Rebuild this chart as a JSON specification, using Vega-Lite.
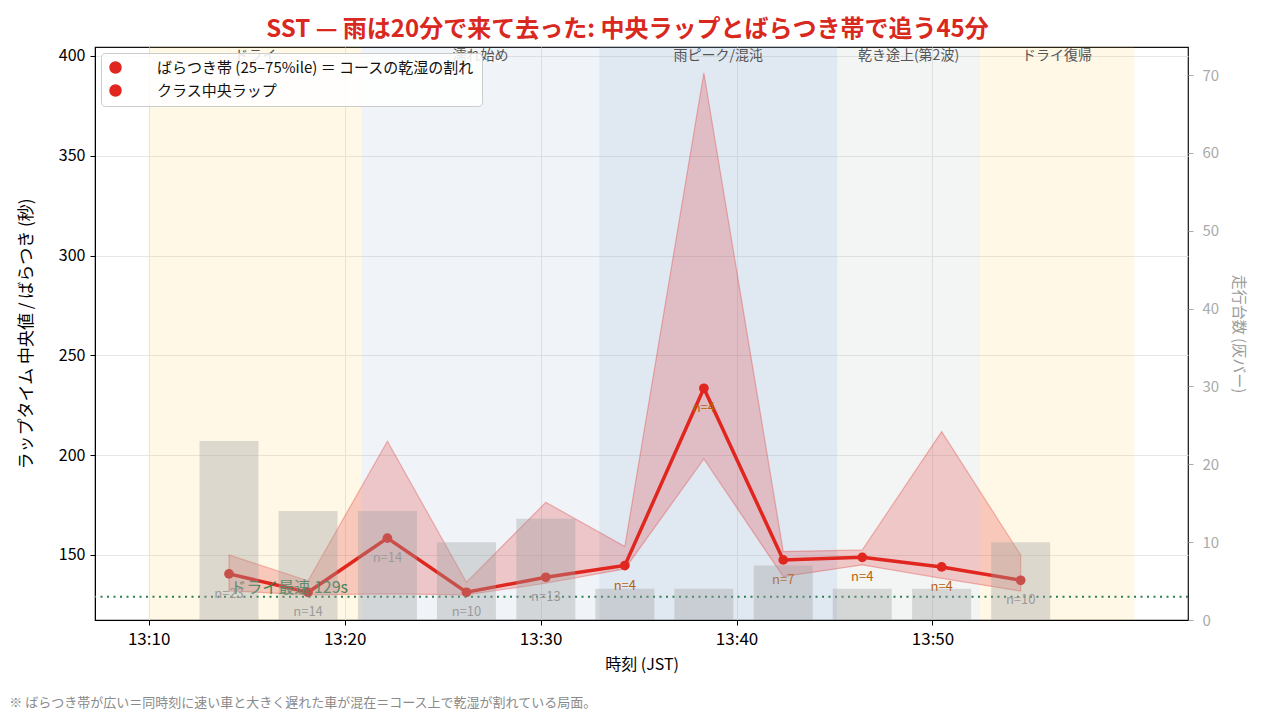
{
  "$schema": "https://vega.github.io/schema/vega-lite/v6.json",
  "padding": {"left": 8, "top": 18, "right": 8, "bottom": 0},
  "background": "white",
  "config": {
    "font": "Noto Sans CJK JP",
    "view": {"stroke": "#111", "strokeWidth": 1.2},
    "axis": {"gridColor": "#e4e4e4", "gridOpacity": 0.9, "titleFontWeight": "normal"}
  },
  "title": {
    "text": "SST — 雨は20分で来て去った: 中央ラップとばらつき帯で追う45分",
    "fontSize": 24,
    "fontWeight": "bold",
    "color": "#d9281e",
    "anchor": "middle",
    "offset": 4
  },
  "datasets": {
    "laps": [
      {"t": "2024-06-01T13:14:06", "med": 140.5, "q25": 132.0, "q75": 150.0, "n": 23},
      {"t": "2024-06-01T13:18:08", "med": 131.3, "q25": 130.0, "q75": 137.0, "n": 14},
      {"t": "2024-06-01T13:22:11", "med": 158.4, "q25": 130.5, "q75": 207.0, "n": 14},
      {"t": "2024-06-01T13:26:13", "med": 131.3, "q25": 130.0, "q75": 136.3, "n": 10},
      {"t": "2024-06-01T13:30:16", "med": 138.8, "q25": 135.8, "q75": 176.4, "n": 13},
      {"t": "2024-06-01T13:34:18", "med": 144.7, "q25": 143.0, "q75": 154.2, "n": 4},
      {"t": "2024-06-01T13:38:20", "med": 233.5, "q25": 198.1, "q75": 391.5, "n": 4},
      {"t": "2024-06-01T13:42:23", "med": 147.5, "q25": 139.1, "q75": 151.7, "n": 7},
      {"t": "2024-06-01T13:46:25", "med": 148.8, "q25": 145.0, "q75": 152.5, "n": 4},
      {"t": "2024-06-01T13:50:28", "med": 144.0, "q25": 138.3, "q75": 211.8, "n": 4},
      {"t": "2024-06-01T13:54:30", "med": 137.3, "q25": 131.9, "q75": 150.0, "n": 10}
    ],
    "phases": [
      {"phase": "ドライ", "kind": "dry", "start": "2024-06-01T13:10:00", "end": "2024-06-01T13:20:52"},
      {"phase": "濡れ始め", "kind": "wet", "start": "2024-06-01T13:20:52", "end": "2024-06-01T13:33:00"},
      {"phase": "雨ピーク/混沌", "kind": "rain", "start": "2024-06-01T13:33:00", "end": "2024-06-01T13:45:08"},
      {"phase": "乾き途上(第2波)", "kind": "drying", "start": "2024-06-01T13:45:08", "end": "2024-06-01T13:52:25"},
      {"phase": "ドライ復帰", "kind": "dry", "start": "2024-06-01T13:52:25", "end": "2024-06-01T14:00:18"}
    ]
  },
  "vconcat": [
    {
      "width": 1093,
      "height": 573,
      "title": {
        "text": "※ ばらつき帯が広い＝同時刻に速い車と大きく遅れた車が混在＝コース上で乾湿が割れている局面。",
        "orient": "bottom",
        "anchor": "start",
        "fontSize": 13,
        "fontWeight": "normal",
        "color": "#8a8a8a",
        "offset": 25,
        "dx": -8
      },
      "resolve": {"scale": {"y": "independent"}},
      "layer": [
        {
          "layer": [
            {
              "data": {"name": "phases"},
              "mark": {"type": "rect"},
              "encoding": {
                "x": {
                  "field": "start",
                  "type": "temporal",
                  "scale": {"domain": [
                    {"year": 2024, "month": 6, "date": 1, "hours": 13, "minutes": 7, "seconds": 31},
                    {"year": 2024, "month": 6, "date": 1, "hours": 14, "minutes": 2, "seconds": 47}
                  ]},
                  "axis": {
                    "title": "時刻 (JST)",
                    "format": "%H:%M",
                    "values": [
                      {"year": 2024, "month": 6, "date": 1, "hours": 13, "minutes": 10},
                      {"year": 2024, "month": 6, "date": 1, "hours": 13, "minutes": 20},
                      {"year": 2024, "month": 6, "date": 1, "hours": 13, "minutes": 30},
                      {"year": 2024, "month": 6, "date": 1, "hours": 13, "minutes": 40},
                      {"year": 2024, "month": 6, "date": 1, "hours": 13, "minutes": 50}
                    ],
                    "labelFontSize": 17,
                    "titleFontSize": 16,
                    "labelColor": "#000",
                    "titleColor": "#000",
                    "tickColor": "#000",
                    "domainColor": "#000",
                    "tickSize": 5,
                    "labelPadding": 6,
                    "titlePadding": 9,
                    "grid": true
                  }
                },
                "x2": {"field": "end"},
                "fill": {
                  "field": "kind",
                  "type": "nominal",
                  "legend": null,
                  "scale": {
                    "domain": ["dry", "wet", "rain", "drying"],
                    "range": ["rgba(255,197,48,0.12)", "rgba(130,163,205,0.12)", "rgba(130,163,205,0.25)", "rgba(155,172,172,0.12)"]
                  }
                }
              }
            },
            {
              "data": {"name": "phases"},
              "transform": [{"calculate": "(time(datum.start) + time(datum.end)) / 2", "as": "mid"}],
              "mark": {"type": "text", "fontSize": 14, "color": "#555", "baseline": "middle", "align": "center"},
              "encoding": {
                "x": {"field": "mid", "type": "temporal"},
                "y": {"datum": 400},
                "text": {"field": "phase", "type": "nominal"}
              }
            },
            {
              "data": {"name": "laps"},
              "mark": {"type": "area", "fillOpacity": 0.22, "stroke": "#e0261e", "strokeOpacity": 0.3, "strokeWidth": 1.2},
              "encoding": {
                "x": {"field": "t", "type": "temporal"},
                "y": {
                  "field": "q75",
                  "type": "quantitative",
                  "scale": {"domain": [117.4, 404.5], "nice": false, "zero": false},
                  "axis": {
                    "orient": "left",
                    "title": "ラップタイム 中央値 / ばらつき (秒)",
                    "values": [150, 200, 250, 300, 350, 400],
                    "labelFontSize": 16,
                    "titleFontSize": 17,
                    "labelColor": "#000",
                    "titleColor": "#000",
                    "tickColor": "#000",
                    "domainColor": "#000",
                    "tickSize": 5,
                    "labelPadding": 5,
                    "titlePadding": 23,
                    "grid": true
                  }
                },
                "y2": {"field": "q25"},
                "color": {
                  "datum": "ばらつき帯 (25–75%ile) ＝ コースの乾湿の割れ",
                  "type": "nominal",
                  "scale": {
                    "domain": ["ばらつき帯 (25–75%ile) ＝ コースの乾湿の割れ", "クラス中央ラップ"],
                    "range": ["#e0261e", "#e0261e"]
                  },
                  "legend": {
                    "title": null,
                    "orient": "top-left",
                    "offset": 6,
                    "fillColor": "rgba(255,255,255,0.85)",
                    "strokeColor": "#cccccc",
                    "cornerRadius": 4,
                    "padding": 7,
                    "rowPadding": 6,
                    "labelFontSize": 15,
                    "labelColor": "#111",
                    "labelLimit": 500,
                    "symbolSize": 121,
                    "labelOffset": 34,
                    "encode": {
                      "symbols": {
                        "shape": {"signal": "datum.value === 'クラス中央ラップ' ? 'M-1,0H5M1.1,0A0.9,0.9 0 1,0 2.9,0A0.9,0.9 0 1,0 1.1,0' : 'M-1,-0.9H4.6V0.9H-1Z'"},
                        "fill": {"signal": "datum.value === 'クラス中央ラップ' ? '#e0261e' : 'rgba(224,38,30,0.22)'"},
                        "stroke": {"signal": "datum.value === 'クラス中央ラップ' ? '#e0261e' : 'rgba(224,38,30,0.3)'"},
                        "strokeWidth": {"signal": "datum.value === 'クラス中央ラップ' ? 3 : 1"},
                        "opacity": {"value": 1},
                        "fillOpacity": {"value": 1},
                        "strokeOpacity": {"value": 1}
                      }
                    }
                  }
                }
              }
            },
            {
              "data": {"name": "laps"},
              "mark": {"type": "line", "strokeWidth": 3.5},
              "encoding": {
                "x": {"field": "t", "type": "temporal"},
                "y": {"field": "med", "type": "quantitative"},
                "color": {"datum": "クラス中央ラップ", "type": "nominal", "legend": null}
              }
            },
            {
              "data": {"name": "laps"},
              "mark": {"type": "point", "filled": true, "size": 95, "opacity": 1},
              "encoding": {
                "x": {"field": "t", "type": "temporal"},
                "y": {"field": "med", "type": "quantitative"},
                "color": {"datum": "クラス中央ラップ", "type": "nominal", "legend": null}
              }
            },
            {
              "data": {"values": [{"v": 129}]},
              "mark": {"type": "rule", "color": "#2e7d4f", "strokeWidth": 2, "strokeDash": [2, 4.5]},
              "encoding": {"y": {"field": "v", "type": "quantitative"}}
            },
            {
              "data": {"values": [{"t": "2024-06-01T13:14:10", "v": 129, "label": "ドライ最速 129s"}]},
              "mark": {"type": "text", "fontSize": 16, "color": "#2e7d4f", "opacity": 0.9, "align": "left", "baseline": "alphabetic", "dy": -4},
              "encoding": {
                "x": {"field": "t", "type": "temporal"},
                "y": {"field": "v", "type": "quantitative"},
                "text": {"field": "label", "type": "nominal"}
              }
            },
            {
              "data": {"name": "laps"},
              "transform": [{"calculate": "'n=' + datum.n", "as": "nlab"}],
              "mark": {"type": "text", "fontSize": 13, "baseline": "middle", "dy": 20},
              "encoding": {
                "x": {"field": "t", "type": "temporal"},
                "y": {"field": "med", "type": "quantitative"},
                "text": {"field": "nlab", "type": "nominal"},
                "color": {"condition": {"test": "datum.n < 10", "value": "#b8600a"}, "value": "#999999"}
              }
            }
          ]
        },
        {
          "data": {"name": "laps"},
          "mark": {"type": "bar", "width": 59, "color": "#9e9e9e", "opacity": 0.35},
          "encoding": {
            "x": {"field": "t", "type": "temporal"},
            "y": {
              "field": "n",
              "type": "quantitative",
              "scale": {"domain": [0, 73.6], "nice": false},
              "axis": {
                "orient": "right",
                "title": "走行台数 (灰バー)",
                "values": [0, 10, 20, 30, 40, 50, 60, 70],
                "labelFontSize": 15,
                "titleFontSize": 15,
                "labelColor": "#aaaaaa",
                "titleColor": "#999999",
                "tickColor": "#aaaaaa",
                "domain": false,
                "tickSize": 5,
                "labelPadding": 9,
                "titlePadding": 12,
                "grid": false
              }
            }
          }
        }
      ]
    }
  ]
}
